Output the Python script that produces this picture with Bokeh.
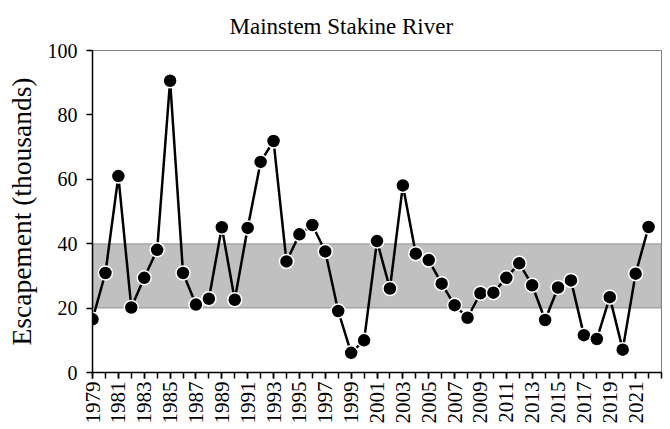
from bokeh.plotting import figure
from bokeh.models import Range1d, FixedTicker, BoxAnnotation, ColumnDataSource
from bokeh.embed import file_html
from bokeh.resources import INLINE
import math

years = list(range(1979, 2023))
escapement = [16.5, 30.9, 61.0, 20.2, 29.4, 38.1, 90.6, 30.9, 21.1, 22.9,
              45.1, 22.6, 44.9, 65.4, 71.9, 34.5, 42.9, 45.8, 37.6, 19.1,
              6.1, 10.0, 40.8, 26.1, 58.1, 36.9, 34.9, 27.6, 20.9, 17.0,
              24.6, 24.8, 29.4, 33.9, 27.1, 16.3, 26.4, 28.6, 11.6, 10.4,
              23.4, 7.1, 30.7, 45.2]
goal_range = [20, 40]
y_ticks = [0, 20, 40, 60, 80, 100]
x_label_years = list(range(1979, 2022, 2))
x_tick_years = list(range(1979, 2024))
title_text = "Mainstem Stakine River"

FONT = "'Liberation Serif'"
TICK_FONT = "Times"

p = figure(width=670, height=429, output_backend="svg", toolbar_location=None,
           x_range=Range1d(1979, 2023), y_range=Range1d(0, 100),
           min_border_left=92, min_border_right=9, min_border_top=50,
           min_border_bottom=57)

p.title.text = title_text
p.title.text_font = FONT
p.title.text_font_size = "23px"
p.title.text_font_style = "normal"
p.title.align = "left"
p.title.vertical_align = "top"
p.title.offset = 137
p.title.standoff = 20
p.title.text_color = "black"

p.xgrid.visible = False
p.ygrid.visible = False
p.outline_line_color = "#808080"
p.outline_line_width = 1
p.background_fill_color = "white"
p.border_fill_color = "white"

band = BoxAnnotation(bottom=goal_range[0], top=goal_range[1],
                     fill_color="#C0C0C0", fill_alpha=1.0,
                     line_color="#404040", line_width=1.5, level="underlay")
p.add_layout(band)

src = ColumnDataSource(data=dict(year=years, esc=escapement))
p.line("year", "esc", source=src, line_color="black", line_width=2.5)
p.scatter("year", "esc", source=src, size=14, fill_color="black",
          line_color="white", line_width=1.5)

# x axis
xa = p.xaxis[0]
xa.ticker = FixedTicker(ticks=x_label_years, minor_ticks=x_tick_years)
xa.major_label_overrides = {y: str(y) for y in x_label_years}
xa.major_label_orientation = math.pi / 2
xa.major_label_text_font = TICK_FONT
xa.major_label_text_font_size = "21px"
xa.major_label_text_color = "black"
xa.major_label_standoff = 3
xa.major_tick_in = 0
xa.major_tick_out = 6
xa.minor_tick_in = 0
xa.minor_tick_out = 6
xa.axis_line_color = "black"
xa.axis_line_width = 1.5
xa.major_tick_line_color = "black"
xa.minor_tick_line_color = "black"
xa.major_tick_line_width = 1.5
xa.minor_tick_line_width = 1.5

# y axis
ya = p.yaxis[0]
ya.ticker = FixedTicker(ticks=y_ticks, minor_ticks=[])
ya.major_label_text_font = TICK_FONT
ya.major_label_text_font_size = "20px"
ya.major_label_text_color = "black"
ya.major_label_standoff = 9
ya.major_tick_in = 0
ya.major_tick_out = 6
ya.minor_tick_line_color = None
ya.axis_line_color = "black"
ya.axis_line_width = 1.5
ya.major_tick_line_color = "black"
ya.major_tick_line_width = 1.5
ya.axis_label = "Escapement (thousands)"
ya.axis_label_text_font = FONT
ya.axis_label_text_font_size = "27.5px"
ya.axis_label_text_font_style = "normal"
ya.axis_label_text_color = "black"
ya.axis_label_standoff = 8

open("out.html", "w").write(file_html(p, INLINE))
